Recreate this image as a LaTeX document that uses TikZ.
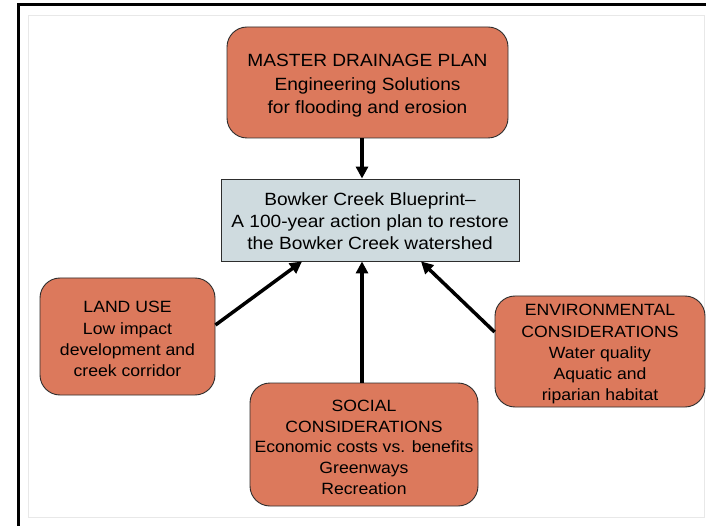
\documentclass[tikz,border=0pt]{standalone}
\usepackage{fontspec}
\setmainfont[FakeStretch=1.08]{Liberation Sans}
\usetikzlibrary{arrows.meta}
\definecolor{boxorange}{RGB}{220,121,92}
\definecolor{boxblue}{RGB}{207,219,223}
\definecolor{edgegray}{RGB}{45,45,45}
\definecolor{framegray}{RGB}{232,232,232}
\newcommand{\downstrut}[1]{\rule{0pt}{#1}}
\tikzset{
  obox/.style={draw=edgegray, line width=0.9pt, fill=boxorange, rounded corners=20pt, align=center, inner sep=0pt},
  bbox/.style={draw=edgegray, line width=0.9pt, fill=boxblue, align=center, inner sep=0pt},
  bigtxt/.style={font=\fontsize{17.7}{23.5}\selectfont},
  smalltxt/.style={font=\fontsize{16.3}{21.3}\selectfont},
  arr/.style={line width=3.5pt, -{Triangle[length=12pt,width=12pt]}}
}
\begin{document}
\begin{tikzpicture}[x=1pt,y=-1pt]
\useasboundingbox (0,0) rectangle (706,526);
\fill[white] (0,0) rectangle (706,526);
% frame
\draw[framegray, line width=1pt] (28,16) rectangle (704,517);
\draw[black, line width=3pt] (18,530) -- (18,5) -- (710,5);
% nodes
\node[obox, bigtxt, minimum width=281pt, minimum height=111pt] (master) at (367.5,82.5)
  {\downstrut{19pt}MASTER DRAINAGE PLAN\\Engineering Solutions\\for flooding and erosion};
\node[bbox, minimum width=298pt, minimum height=82pt, font=\fontsize{17.7}{22}\selectfont] (bp) at (370,220)
  {\downstrut{16pt}Bowker Creek Blueprint--\\A 100-year action plan to restore\\the Bowker Creek watershed};
\node[obox, smalltxt, minimum width=175pt, minimum height=117pt] (land) at (127.5,336.5)
  {\downstrut{17pt}LAND USE\\Low impact\\development and\\creek corridor};
\node[obox, minimum width=228pt, minimum height=123pt, font=\fontsize{16.3}{20.8}\selectfont] (social) at (364,444.5)
  {\downstrut{17pt}SOCIAL\\CONSIDERATIONS\\Economic costs vs. benefits\\Greenways\\Recreation};
\node[obox, smalltxt, minimum width=210pt, minimum height=111pt] (env) at (600,351.5)
  {\downstrut{17pt}ENVIRONMENTAL\\CONSIDERATIONS\\Water quality\\Aquatic and\\riparian habitat};
% connectors
\draw[arr] ([xshift=-5.5pt]master.south) -- ([xshift=-8pt]bp.north);
\draw[arr] ([yshift=11.5pt]land.east) -- ([xshift=-68pt]bp.south);
\draw[arr] ([xshift=-2pt]social.north) -- ([xshift=-8pt]bp.south);
\draw[arr] ([yshift=19.5pt]env.west) -- ([xshift=51pt]bp.south);
\end{tikzpicture}
\end{document}
